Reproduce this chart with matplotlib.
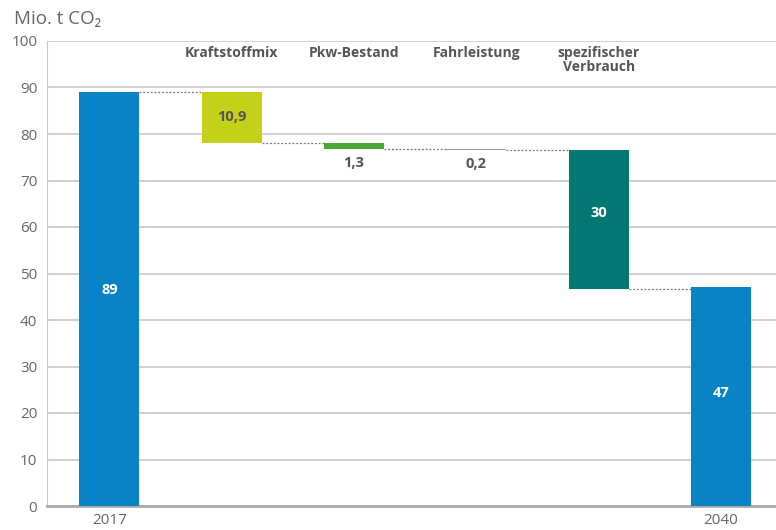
import numpy as np
import matplotlib.pyplot as plt

plt.rcParams['font.family'] = ['Open Sans', 'DejaVu Sans']

# data
start_label, end_label = "2017", "2040"
start_value = 89
end_value = 47
steps = ["Kraftstoffmix", "Pkw-Bestand", "Fahrleistung", "spezifischer\nVerbrauch"]
step_values = [10.9, 1.3, 0.2, 30]
step_texts = ["10,9", "1,3", "0,2", "30"]

blue = "#0a82c6"
step_colors = ["#c3d219", "#4aa836", "#9a9a9a", "#067873"]
grey_txt = "#555555"

fig = plt.figure(figsize=(7.76, 5.30), dpi=100)
ax = fig.add_axes([47 / 776, 24 / 530, 1 - 47 / 776, (506 - 41) / 530])

w = 0.49
x = np.arange(len(steps) + 2)

# start / end bars
ax.bar(x[0], start_value, width=w, color=blue, zorder=3)
ax.bar(x[-1], end_value, width=w, color=blue, zorder=3)
ax.text(x[0], start_value / 2 + 2, str(start_value), ha='center', va='center',
        color='white', fontsize=10.5, fontweight='bold', zorder=4)
ax.text(x[-1], end_value / 2 + 0.8, str(end_value), ha='center', va='center',
        color='white', fontsize=10.5, fontweight='bold', zorder=4)

# waterfall steps
level = start_value
levels = [level]
for i, (v, c, t) in enumerate(zip(step_values, step_colors, step_texts)):
    xi = x[i + 1]
    bottom = level - v
    ax.bar(xi, v, bottom=bottom, width=w, color=c, zorder=3)
    if v > 5:
        tc = 'white' if i == 3 else grey_txt
        ax.text(xi, bottom + v / 2 + (1.4 if i == 3 else 0), t, ha='center', va='center',
                color=tc, fontsize=10.5, fontweight='bold', zorder=4)
    else:
        ax.text(xi, bottom - 3, t, ha='center', va='center',
                color=grey_txt, fontsize=10.5, fontweight='bold', zorder=4)
    level = bottom
    levels.append(level)

# dotted connectors
for i, lv in enumerate(levels):
    ax.plot([x[i] + w / 2, x[i + 1] - w / 2], [lv, lv], color="#777777",
            lw=0.9, ls=(0, (1.5, 1.5)), zorder=2)

# category labels on top
for i, s in enumerate(steps):
    ax.text(x[i + 1], 98.9, s, ha='center', va='top', color=grey_txt,
            fontsize=10, fontweight='bold', linespacing=0.95)

ax.set_xlim(-0.51, 5.45)
ax.set_ylim(0, 100)
ax.set_yticks(np.arange(0, 101, 10))
ax.set_xticks([x[0], x[-1]])
ax.set_xticklabels([start_label, end_label])
ax.grid(axis='y', color="#c8c8c8", lw=1.2, zorder=1)
ax.tick_params(axis='both', length=0, labelsize=11, colors="#666666", pad=7)
ax.tick_params(axis='x', pad=5)
for s in ['top', 'right']:
    ax.spines[s].set_visible(False)
ax.spines['left'].set_color("#c8c8c8")
ax.spines['bottom'].set_color("#aaaaaa")
ax.spines['bottom'].set_linewidth(2)

fig.text(14 / 776, 1 - 19 / 530, "Mio. t CO₂", ha='left', va='center',
         fontsize=13.5, color="#666666")

fig.savefig("out.png", dpi=100)
